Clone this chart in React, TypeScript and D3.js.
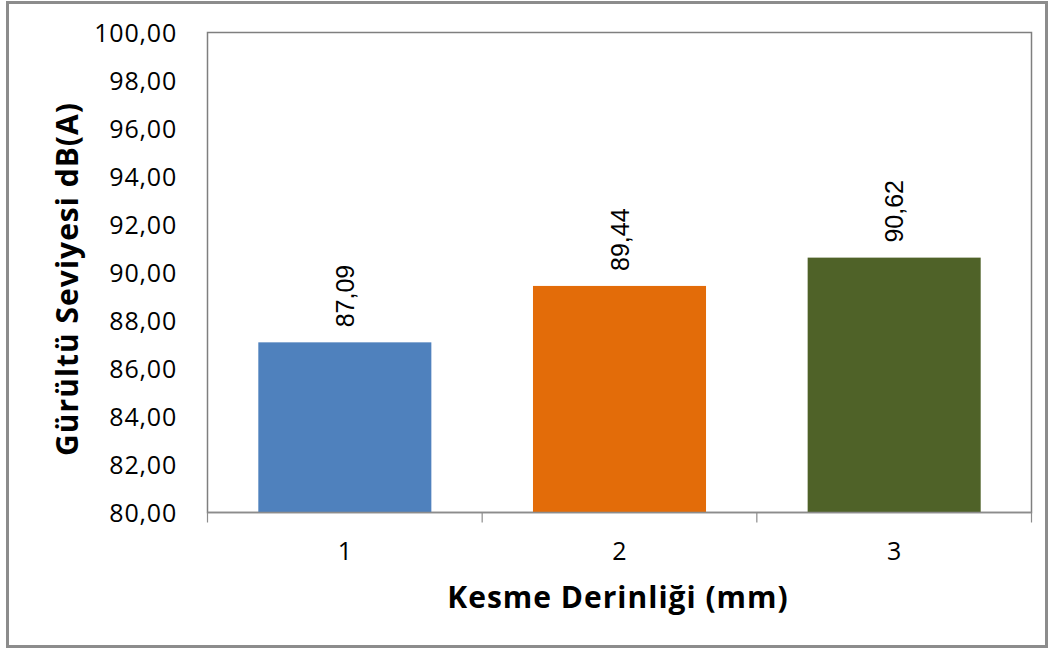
import React from "react";
import * as d3 from "d3";

const categories = ["1", "2", "3"];
const values = [87.09, 89.44, 90.62];
const colors = ["#4F81BD", "#E36C09", "#4F6228"];
const yTicks = [80, 82, 84, 86, 88, 90, 92, 94, 96, 98, 100];

const fmt = (v: number) => v.toFixed(2).replace(".", ",");

export default function App() {
  const W = 1051, H = 650;
  const left = 207.5, right = 1031.5, top = 32.5, bottom = 512.5;
  const x = d3.scaleBand<string>().domain(categories).range([left, right]).paddingInner(0.37).paddingOuter(0.185);
  const y = d3.scaleLinear().domain([80, 100]).range([bottom, top]);
  const boundaries = [0, 1, 2, 3].map((i) => left + i * ((right - left) / 3));
  const font = "'Open Sans', sans-serif";
  return (
    <svg width={W} height={H} style={{ position: "absolute", left: 0, top: 0 }}>
      <rect x={0} y={0} width={W} height={H} fill="#fff" />
      <rect x={7.5} y={2.5} width={1039} height={644} fill="#fff" stroke="#8c8c8c" strokeWidth={3} />
      <rect x={left} y={top} width={right - left} height={bottom - top} fill="#fff" stroke="#7f7f7f" strokeWidth={1.5} />
      {categories.map((c, i) => (
        <rect key={c} x={x(c)} y={y(values[i])} width={x.bandwidth()} height={bottom - y(values[i])} fill={colors[i]} />
      ))}
      <line x1={left} x2={right} y1={bottom} y2={bottom} stroke="#8c8c8c" strokeWidth={1.5} />
      {boundaries.map((b, i) => (
        <line key={i} x1={b} x2={b} y1={bottom} y2={bottom + 10} stroke="#8c8c8c" strokeWidth={1.2} />
      ))}
      {yTicks.map((t) => (
        <text key={t} x={177} y={y(t)} dy="0.36em" textAnchor="end" fontFamily={font} fontSize={25} letterSpacing={0.8} fill="#000">
          {fmt(t)}
        </text>
      ))}
      {categories.map((c) => (
        <text key={c} x={(x(c) as number) + x.bandwidth() / 2} y={551} dy="0.36em" textAnchor="middle" fontFamily={font} fontSize={25} fill="#000">
          {c}
        </text>
      ))}
      {categories.map((c, i) => {
        const cx = (x(c) as number) + x.bandwidth() / 2;
        const cy = y(values[i]) - 15;
        return (
          <text key={c} transform={`translate(${cx + 9},${cy}) rotate(-90)`} textAnchor="start" fontFamily="'Liberation Sans', Arial, sans-serif" fontSize={25} fill="#000">
            {fmt(values[i])}
          </text>
        );
      })}
      <text transform={`translate(78,279) rotate(-90)`} textAnchor="middle" fontFamily={font} fontSize={30} fontWeight="bold" letterSpacing={1} fill="#000">
        Gürültü Seviyesi dB(A)
      </text>
      <text x={618} y={608} textAnchor="middle" fontFamily={font} fontSize={30} fontWeight="bold" letterSpacing={1} fill="#000">
        Kesme Derinliği (mm)
      </text>
    </svg>
  );
}
